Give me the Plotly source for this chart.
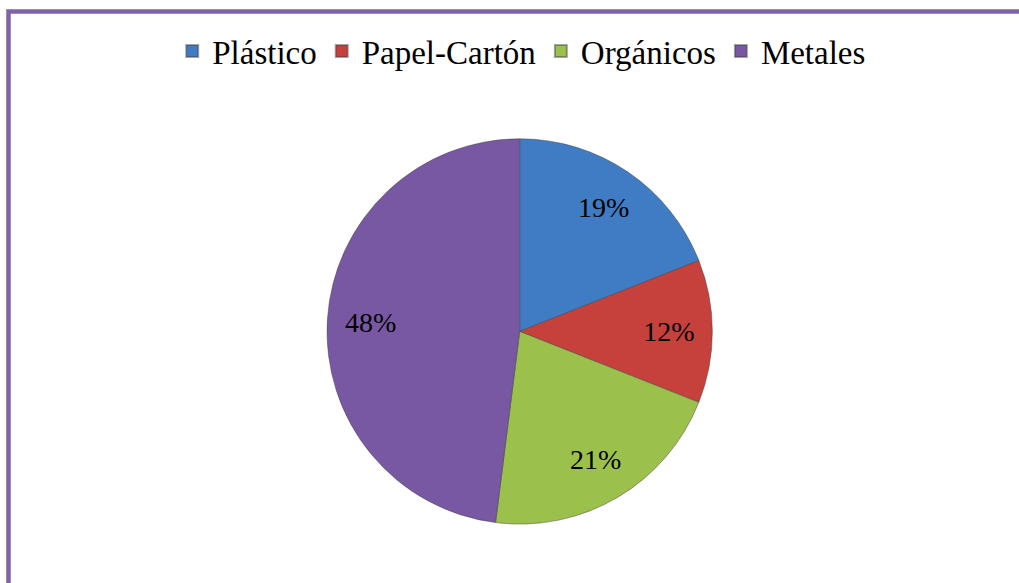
import plotly.graph_objects as go

categories = ["Plástico", "Papel-Cartón", "Orgánicos", "Metales"]
values = [19, 12, 21, 48]
colors = ["#3F7CC4", "#C6403C", "#9CC04C", "#7858A2"]

FONT = "Liberation Serif"
DOMAIN = dict(x=[0.32, 0.70], y=[0.101, 0.762])

fig = go.Figure()
# slices + legend
fig.add_trace(go.Pie(
    labels=categories,
    values=values,
    sort=False,
    direction="clockwise",
    rotation=0,
    marker=dict(colors=colors, line=dict(color="rgba(60,60,60,0.45)", width=1)),
    textinfo="none",
    domain=DOMAIN,
    hoverinfo="label+percent",
))
# percentage labels placed further out (ring overlay, transparent)
fig.add_trace(go.Pie(
    labels=categories,
    values=values,
    sort=False,
    direction="clockwise",
    rotation=0,
    hole=0.55,
    marker=dict(colors=["rgba(0,0,0,0)"] * len(values), line=dict(width=0)),
    texttemplate="%{percent:.0%}",
    textposition="inside",
    insidetextorientation="horizontal",
    textfont=dict(family=FONT, size=28, color="black"),
    domain=DOMAIN,
    showlegend=False,
    hoverinfo="skip",
))

fig.update_layout(
    width=1019, height=583,
    margin=dict(l=0, r=0, t=0, b=0),
    paper_bgcolor="white",
    font=dict(family=FONT, size=30, color="black"),
    legend=dict(
        orientation="h",
        x=0.512, xanchor="center",
        y=1 - 51 / 583, yanchor="middle",
        font=dict(family=FONT, size=33, color="black"),
        itemsizing="constant",
        traceorder="normal",
    ),
    shapes=[dict(
        type="rect", xref="paper", yref="paper",
        x0=8.5 / 1019, x1=1.05, y0=-0.05, y1=1 - 11.5 / 583,
        line=dict(color="#8064A2", width=4.5),
        fillcolor="rgba(0,0,0,0)",
        layer="above",
    )],
)

fig.write_html(
    "out.html",
    config={"displayModeBar": False},
    post_script="document.body.style.margin='0';document.body.style.overflow='hidden';",
)
